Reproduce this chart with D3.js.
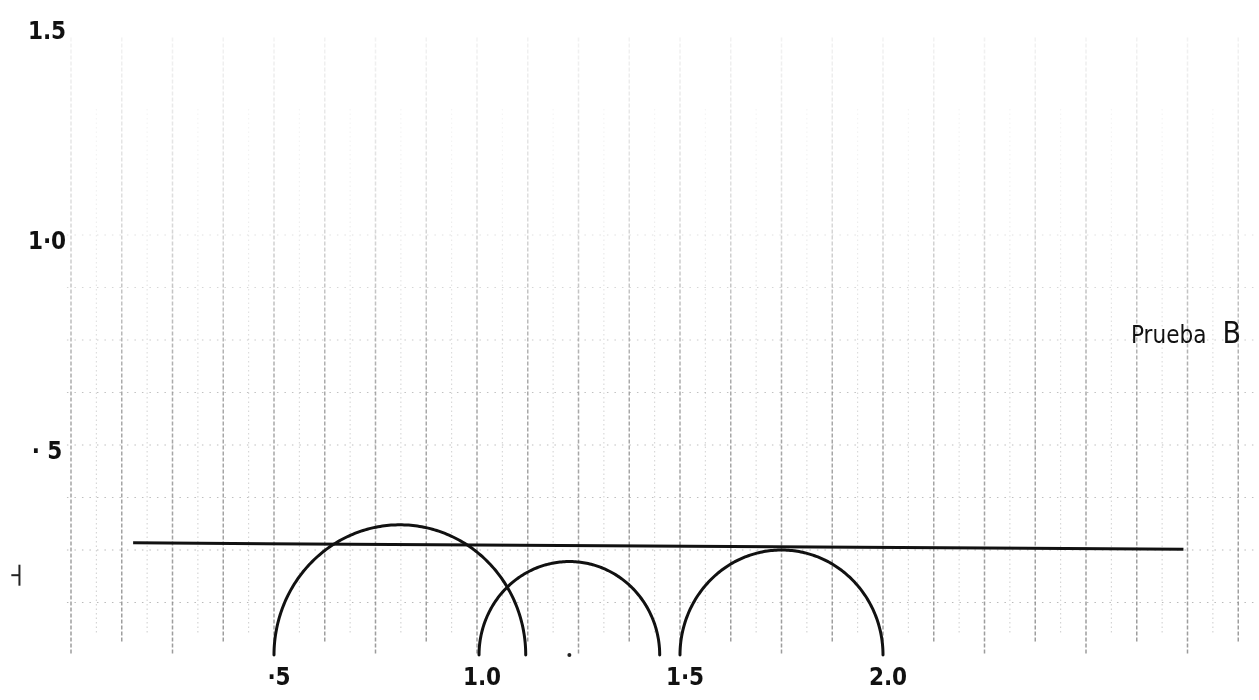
<!DOCTYPE html>
<html>
<head>
<meta charset="utf-8">
<script src="https://cdn.jsdelivr.net/npm/d3@7/dist/d3.min.js"></script>
<style>
  html, body { margin: 0; padding: 0; background: #fff; }
  svg { display: block; }
</style>
</head>
<body>
<svg id="chart" width="1259" height="700"></svg>
<script>
// Mohr circles for test B: [sigma3, sigma1] of each specimen
const circleNames = ["c1", "c2", "c3"];
const sigma3 = [0.5, 1.005, 1.5];
const sigma1 = [1.12, 1.45, 2.0];

// Strength envelope (nearly horizontal), two end points
const envelopeSigma = [0.153, 2.74];
const envelopeTau = [0.267, 0.252];

// Axis tick values and their hand-lettered labels
const xTickValues = [0.5, 1.0, 1.5, 2.0];
const xTickLabels = ["·5", "1.0", "1·5", "2.0"];
const yTickValues = [1.5, 1.0, 0.5];
const yTickLabels = ["1.5", "1·0", "· 5"];

// Graph-paper rulings (in data units)
const gridStepX = 1 / 16;
const gridCountX = 48;
const gridRowsY = [0.125, 0.25, 0.375, 0.5, 0.625, 0.75, 0.875, 1.0];

const title = "Prueba";
const titleSuffix = "B";

const svg = d3.select("#chart");
const W = 1259, H = 700;

const x = d3.scaleLinear().domain([0, 3]).range([71, 71 + 3 * 406]);
const y = d3.scaleLinear().domain([0, 1.5]).range([655, 25]);

svg.append("rect").attr("width", W).attr("height", H).attr("fill", "#fff");

// fade mask: the ruling is printed faintly toward the top of the sheet
const defs = svg.append("defs");
const grad = defs.append("linearGradient")
  .attr("id", "fade").attr("gradientUnits", "userSpaceOnUse")
  .attr("x1", 0).attr("y1", 0).attr("x2", 0).attr("y2", H);
grad.append("stop").attr("offset", "0").attr("stop-color", "#fff").attr("stop-opacity", 0.08);
grad.append("stop").attr("offset", "0.3").attr("stop-color", "#fff").attr("stop-opacity", 0.35);
grad.append("stop").attr("offset", "0.55").attr("stop-color", "#fff").attr("stop-opacity", 0.85);
grad.append("stop").attr("offset", "1").attr("stop-color", "#fff").attr("stop-opacity", 1);
defs.append("mask").attr("id", "gridMask")
  .append("rect").attr("width", W).attr("height", H).attr("fill", "url(#fade)");

const grid = svg.append("g").attr("mask", "url(#gridMask)");

// vertical rulings: every 1/16, heavier every 1/8
const vIdx = d3.range(0, gridCountX);
grid.selectAll("line.v")
  .data(vIdx)
  .join("line")
  .attr("class", "v")
  .attr("x1", d => x(d * gridStepX))
  .attr("x2", d => x(d * gridStepX))
  .attr("y1", d => y(d % 2 === 0 ? 1.47 : 1.3))
  .attr("y2", d => y(d % 4 === 0 ? 0.0 : (d % 2 === 0 ? 0.03 : 0.05)))
  .attr("stroke", d => d % 2 === 0 ? "#707070" : "#a0a0a0")
  .attr("stroke-width", d => d % 2 === 0 ? 1.5 : 1.1)
  .attr("stroke-dasharray", d => d % 2 === 0 ? "4,2" : "1.5,3")
  .attr("opacity", d => d % 2 === 0 ? 0.7 : 0.5);

// horizontal rulings: dotted rows every 1/8
grid.selectAll("line.h")
  .data(gridRowsY)
  .join("line")
  .attr("class", "h")
  .attr("x1", x(-0.01))
  .attr("x2", x(2.92))
  .attr("y1", d => y(d))
  .attr("y2", d => y(d))
  .attr("stroke", "#888")
  .attr("stroke-width", 1.2)
  .attr("stroke-dasharray", "1.5,6")
  .attr("opacity", 0.6);

// strength envelope
const envelope = envelopeSigma.map((s, i) => [s, envelopeTau[i]]);
svg.append("path")
  .datum(envelope)
  .attr("d", d3.line().x(d => x(d[0])).y(d => y(d[1])))
  .attr("fill", "none")
  .attr("stroke", "#111")
  .attr("stroke-width", 3);

// Mohr semicircles, sampled from center and radius
const circles = circleNames.map((n, i) => ({
  name: n,
  c: (sigma3[i] + sigma1[i]) / 2,
  r: (sigma1[i] - sigma3[i]) / 2
}));
const arcLine = d3.line().x(d => x(d[0])).y(d => y(d[1]));
svg.selectAll("path.mohr")
  .data(circles)
  .join("path")
  .attr("class", "mohr")
  .attr("d", d => arcLine(d3.range(0, 181).map(a => {
    const t = Math.PI - a * Math.PI / 180;
    return [d.c + d.r * Math.cos(t), d.r * Math.sin(t)];
  })))
  .attr("fill", "none")
  .attr("stroke", "#111")
  .attr("stroke-width", 3)
  .attr("stroke-linecap", "round");

// centre mark of the middle circle
svg.append("circle")
  .attr("cx", x(circles[1].c))
  .attr("cy", y(0))
  .attr("r", 2)
  .attr("fill", "#222");

const font = "'DejaVu Sans Condensed', 'DejaVu Sans', sans-serif";

// x tick labels under the circles
svg.selectAll("text.xl")
  .data(xTickValues)
  .join("text")
  .attr("class", "xl")
  .attr("x", d => x(d) + 5)
  .attr("y", y(0) + 30)
  .attr("text-anchor", "middle")
  .attr("font-family", font)
  .attr("font-size", 24)
  .attr("font-weight", "bold")
  .attr("fill", "#111")
  .text((d, i) => xTickLabels[i]);

// y tick labels at the left edge
svg.selectAll("text.yl")
  .data(yTickValues)
  .join("text")
  .attr("class", "yl")
  .attr("x", 47)
  .attr("y", d => y(d) + 14)
  .attr("text-anchor", "middle")
  .attr("font-family", font)
  .attr("font-size", 24)
  .attr("font-weight", "bold")
  .attr("fill", "#111")
  .text((d, i) => yTickLabels[i]);

// small hand tick on the left margin
const tickMark = svg.append("g").attr("stroke", "#222").attr("stroke-width", 2);
tickMark.append("line")
  .attr("x1", x(-0.147)).attr("x2", x(-0.127))
  .attr("y1", y(0.19)).attr("y2", y(0.19));
tickMark.append("line")
  .attr("x1", x(-0.127)).attr("x2", x(-0.127))
  .attr("y1", y(0.215)).attr("y2", y(0.165));

// test label
const lbl = svg.append("text")
  .attr("x", 1131)
  .attr("y", 343)
  .attr("font-family", font)
  .attr("fill", "#111");
lbl.append("tspan").attr("font-size", 24).text(title);
lbl.append("tspan").attr("font-size", 30).attr("dx", 16).text(titleSuffix);
</script>
</body>
</html>
